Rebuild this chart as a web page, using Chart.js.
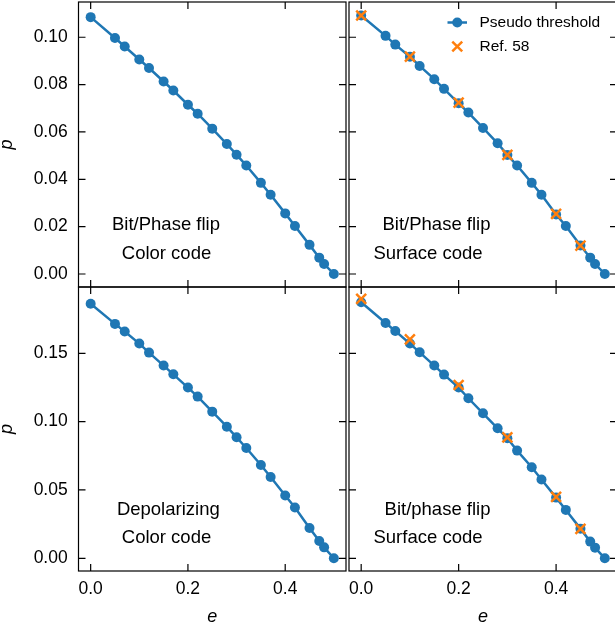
<!DOCTYPE html>
<html>
<head>
<meta charset="utf-8">
<script src="https://cdn.jsdelivr.net/npm/chart.js@4"></script>
<style>
  html, body { margin: 0; padding: 0; background: #fff; overflow: hidden; width: 615px; height: 631px; }
  canvas { position: absolute; left: 0; top: 0; }
</style>
</head>
<body>
<canvas id="c-tl" width="620" height="631"></canvas>
<canvas id="c-tr" width="620" height="631"></canvas>
<canvas id="c-bl" width="620" height="631"></canvas>
<canvas id="c-br" width="620" height="631"></canvas>
<script>
// error rate e shared by every panel
const eGrid = [0, 0.05, 0.07, 0.10, 0.12, 0.15, 0.17, 0.20, 0.22, 0.25, 0.28,
               0.30, 0.32, 0.35, 0.37, 0.40, 0.42, 0.45, 0.47, 0.48, 0.50];

const pBitColor   = [0.1085, 0.0997, 0.0961, 0.0906, 0.0870, 0.0813, 0.0775, 0.0715, 0.0677, 0.0614, 0.0549,
                     0.0504, 0.0458, 0.0385, 0.0335, 0.0256, 0.0203, 0.0123, 0.0069, 0.0042, 0.0];
const pBitSurface = [0.1092, 0.1006, 0.0969, 0.0918, 0.0879, 0.0823, 0.0782, 0.0721, 0.0682, 0.0617, 0.0552,
                     0.0503, 0.0458, 0.0385, 0.0335, 0.0251, 0.0203, 0.0120, 0.0069, 0.0042, 0.0];
const pDepColor   = [0.1863, 0.1715, 0.1659, 0.1571, 0.1505, 0.1410, 0.1346, 0.1249, 0.1183, 0.1073, 0.0963,
                     0.0885, 0.0807, 0.0683, 0.0595, 0.0459, 0.0371, 0.0222, 0.0127, 0.0080, 0.0];
const pBitSurface2 = [0.1873, 0.1722, 0.1663, 0.1571, 0.1507, 0.1410, 0.1344, 0.1249, 0.1171, 0.1061, 0.0951,
                      0.0878, 0.0788, 0.0666, 0.0576, 0.0444, 0.0354, 0.0217, 0.0122, 0.0078, 0.0];

// Ref. 58 comparison points
const eRef = [0, 0.10, 0.20, 0.30, 0.40, 0.45];
const pRefTop = [0.1092, 0.0918, 0.0724, 0.0503, 0.0254, 0.0120];
const pRefBottom = [0.1898, 0.1602, 0.1268, 0.0885, 0.0449, 0.0215];

const BLUE = '#1f77b4';
const ORANGE = '#ff7f0e';
const FONT = '"Liberation Sans", Arial, Helvetica, sans-serif';

Chart.defaults.font.family = FONT;
Chart.defaults.color = '#000';

const toPts = (xs, ys) => xs.map((x, i) => ({ x, y: ys[i] }));

// box + inward ticks on all four sides, taken from the scales' own ticks
const frameTicks = {
  id: 'frameTicks',
  afterDraw(chart) {
    const { ctx, chartArea: a, scales: { x, y } } = chart;
    ctx.save();
    ctx.strokeStyle = '#000';
    ctx.lineWidth = 1.2;
    ctx.strokeRect(a.left, a.top, a.right - a.left, a.bottom - a.top);
    ctx.beginPath();
    x.ticks.forEach(t => {
      const px = x.getPixelForValue(t.value);
      ctx.moveTo(px, a.bottom); ctx.lineTo(px, a.bottom - 7);
      ctx.moveTo(px, a.top); ctx.lineTo(px, a.top + 7);
    });
    y.ticks.forEach(t => {
      const py = y.getPixelForValue(t.value);
      ctx.moveTo(a.left, py); ctx.lineTo(a.left + 7, py);
      ctx.moveTo(a.right, py); ctx.lineTo(a.right - 7, py);
    });
    ctx.stroke();
    ctx.restore();
  },
};

// two-line label inside each panel
const panelLabel = {
  id: 'panelLabel',
  afterDraw(chart, args, opts) {
    if (!opts.lines) return;
    const { ctx, chartArea: a } = chart;
    ctx.save();
    ctx.fillStyle = '#000';
    ctx.font = '18.5px ' + FONT;
    ctx.textAlign = 'center';
    ctx.textBaseline = 'alphabetic';
    opts.lines.forEach(l => ctx.fillText(l.text, a.left + l.dx, a.top + l.dy));
    ctx.restore();
  },
};

// legend drawn inside the upper right panel from the dataset styles
const innerLegend = {
  id: 'innerLegend',
  afterDraw(chart, args, opts) {
    if (!opts.show) return;
    const { ctx, chartArea: a } = chart;
    const x0 = a.left + 98.5, x1 = a.left + 118, xm = (x0 + x1) / 2, xt = a.left + 130.5;
    const rows = [a.top + 20.5, a.top + 44.5];
    ctx.save();
    ctx.font = '15.5px ' + FONT;
    ctx.textBaseline = 'middle';
    chart.data.datasets.forEach((ds, i) => {
      const yy = rows[i];
      ctx.strokeStyle = ds.borderColor;
      ctx.fillStyle = ds.backgroundColor;
      if (ds.showLine !== false) {
        ctx.lineWidth = ds.borderWidth;
        ctx.beginPath(); ctx.moveTo(x0, yy); ctx.lineTo(x1, yy); ctx.stroke();
      }
      ctx.lineWidth = ds.pointBorderWidth;
      Chart.helpers.drawPoint(ctx, {
        pointStyle: ds.pointStyle, radius: ds.pointRadius, rotation: 0, borderWidth: ds.pointBorderWidth,
      }, xm, yy);
      ctx.fillStyle = '#000';
      ctx.fillText(ds.label, xt, yy);
    });
    ctx.restore();
  },
};

function seriesSet(ps, refPs) {
  const sets = [{
    label: 'Pseudo threshold',
    data: toPts(eGrid, ps),
    order: 1,
    borderColor: BLUE,
    backgroundColor: BLUE,
    borderWidth: 2.5,
    pointRadius: 5,
    pointStyle: 'circle',
    pointBackgroundColor: BLUE,
    pointBorderColor: BLUE,
    pointBorderWidth: 0,
    tension: 0,
    clip: false,
  }];
  if (refPs) {
    sets.push({
      label: 'Ref. 58',
      data: toPts(eRef, refPs),
      order: 0,
      showLine: false,
      borderColor: ORANGE,
      backgroundColor: ORANGE,
      pointStyle: 'crossRot',
      pointRadius: 7,
      pointBorderColor: ORANGE,
      pointBorderWidth: 2.5,
      clip: false,
    });
  }
  return sets;
}

// no extra room for edge labels: the panels sit edge to edge
const noEdgePad = s => { s.paddingTop = 0; s.paddingBottom = 0; s.paddingLeft = 0; s.paddingRight = 0; };

function makePanel(id, cfg) {
  const isLeft = cfg.col === 0, isBottom = cfg.row === 1;
  const yMin = isBottom ? -0.0093 : -0.0055;
  const yMax = isBottom ? 0.1985 : 0.1149;
  const yStep = isBottom ? 0.05 : 0.02;
  const pad = {
    left: isLeft ? 0 : 349,
    right: isLeft ? 274 : 3,
    top: isBottom ? 287 : 2,
    bottom: isBottom ? 0 : 344,
  };
  new Chart(document.getElementById(id), {
    type: 'line',
    data: { datasets: cfg.datasets },
    options: {
      responsive: false,
      animation: false,
      devicePixelRatio: 1,
      layout: { padding: pad, autoPadding: false },
      plugins: {
        legend: { display: false },
        tooltip: { enabled: false },
        panelLabel: { lines: cfg.lines },
        innerLegend: { show: !!cfg.legend },
      },
      scales: {
        x: {
          type: 'linear', min: -0.025, max: 0.525,
          display: isBottom,
          grid: { display: false, drawTicks: false },
          border: { display: false },
          ticks: {
            stepSize: 0.2, includeBounds: false, padding: 7.5, maxRotation: 0,
            font: { size: 17.5 }, color: '#000',
            callback: v => v.toFixed(1),
          },
          title: { display: true, text: 'e', font: { size: 18, style: 'italic' }, padding: { top: 0, bottom: 3 }, color: '#000' },
          afterFit: s => { noEdgePad(s); if (isBottom) s.height = 60; },
        },
        y: {
          type: 'linear', min: yMin, max: yMax,
          display: isLeft,
          grid: { display: false, drawTicks: false },
          border: { display: false },
          ticks: {
            stepSize: yStep, includeBounds: false, padding: 10.8,
            font: { size: 17.5 }, color: '#000',
            callback: v => v.toFixed(2),
          },
          title: { display: true, text: 'p', font: { size: 18, style: 'italic', lineHeight: 0.8 }, padding: 0, color: '#000' },
          afterFit: s => { noEdgePad(s); if (isLeft) s.width = 78.5; },
        },
      },
    },
    plugins: [frameTicks, panelLabel, innerLegend],
  });
}

const panels = [
  ['c-tl', { row: 0, col: 0, datasets: seriesSet(pBitColor),
             lines: [{ text: 'Bit/Phase flip', dx: 87.5, dy: 227.5 }, { text: 'Color code', dx: 88, dy: 257 }] }],
  ['c-tr', { row: 0, col: 1, legend: true, datasets: seriesSet(pBitSurface, pRefTop),
             lines: [{ text: 'Bit/Phase flip', dx: 87.5, dy: 227.5 }, { text: 'Surface code', dx: 79, dy: 257 }] }],
  ['c-bl', { row: 1, col: 0, datasets: seriesSet(pDepColor),
             lines: [{ text: 'Depolarizing', dx: 89.8, dy: 227.5 }, { text: 'Color code', dx: 88, dy: 256.3 }] }],
  ['c-br', { row: 1, col: 1, datasets: seriesSet(pBitSurface2, pRefBottom),
             lines: [{ text: 'Bit/phase flip', dx: 88.5, dy: 227.5 }, { text: 'Surface code', dx: 79, dy: 256.3 }] }],
];
for (const [id, cfg] of panels) {
  try { makePanel(id, cfg); } catch (e) { console.error(`panel ${id} failed`, e); }
}
</script>
</body>
</html>
